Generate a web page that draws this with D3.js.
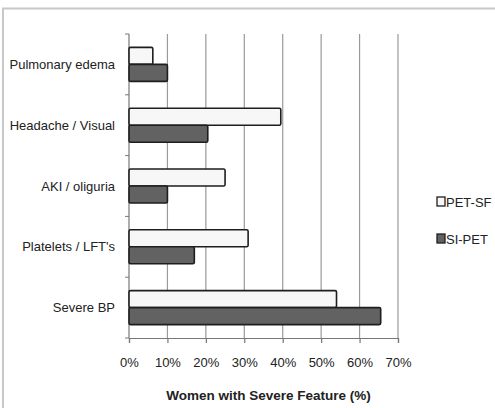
<!DOCTYPE html>
<html>
<head>
<meta charset="utf-8">
<script src="https://cdn.jsdelivr.net/npm/d3@7"></script>
<style>
  body { margin: 0; background: #fff; }
  svg { display: block; }
  text { font-family: "Liberation Sans Narrow", "Arial Narrow", "Liberation Sans", sans-serif; fill: #222; }
</style>
</head>
<body>
<script>
const categories = ["Pulmonary edema", "Headache / Visual", "AKI / oliguria", "Platelets / LFT's", "Severe BP"];
const petSF = [6.2, 39.5, 25, 31, 54];
const siPET = [10, 20.5, 10, 17, 65.5];
const seriesNames = ["PET-SF", "SI-PET"];
const xTicks = [0, 10, 20, 30, 40, 50, 60, 70];

const svgWidth = 495;
const svgHeight = 408;
const margin = {top: 34, right: 97, bottom: 70, left: 129};
const chartWidth = svgWidth - margin.left - margin.right;
const chartHeight = svgHeight - margin.top - margin.bottom;

const svg = d3.select("body").append("svg")
    .attr("width", svgWidth)
    .attr("height", svgHeight);

// outer frame
svg.append("rect")
    .attr("x", 3).attr("y", 8.5)
    .attr("width", svgWidth + 10).attr("height", svgHeight + 10)
    .attr("fill", "none")
    .attr("stroke", "#c8c8c8")
    .attr("stroke-width", 2);

const g = svg.append("g")
    .attr("transform", `translate(${margin.left}, ${margin.top})`);

const x = d3.scaleLinear().domain([0, 70]).range([0, chartWidth]);
const y = d3.scaleBand().domain(categories).range([0, chartHeight]).paddingInner(0.44).paddingOuter(0.22);
const ySub = d3.scaleBand().domain(seriesNames).range([0, y.bandwidth()]);

// grid
g.selectAll(".grid")
    .data(xTicks.slice(1))
    .join("line")
    .attr("x1", d => x(d)).attr("x2", d => x(d))
    .attr("y1", 0).attr("y2", chartHeight)
    .attr("stroke", "#9a9a9a")
    .attr("stroke-width", 1.2);

// x axis
const xAxis = g.append("g")
    .attr("transform", `translate(0, ${chartHeight})`)
    .call(d3.axisBottom(x).tickValues(xTicks).tickFormat(d => d + "%").tickSize(5).tickPadding(15));
xAxis.select(".domain").attr("stroke", "#777").attr("stroke-width", 1.2);
xAxis.selectAll(".tick line").attr("stroke", "#777").attr("stroke-width", 1.2);
xAxis.selectAll("text").attr("font-size", 13).attr("fill", "#222")
    .attr("font-family", "Liberation Sans Narrow, Arial Narrow, Liberation Sans, sans-serif");

// y axis
const yTickPos = d3.range(categories.length + 1).map(i => i * chartHeight / categories.length);
g.append("line")
    .attr("x1", 0).attr("x2", 0).attr("y1", 0).attr("y2", chartHeight)
    .attr("stroke", "#777").attr("stroke-width", 1.2);
g.selectAll(".ytick")
    .data(yTickPos)
    .join("line")
    .attr("x1", -4).attr("x2", 0)
    .attr("y1", d => d).attr("y2", d => d)
    .attr("stroke", "#777");

g.selectAll(".ylabel")
    .data(categories)
    .join("text")
    .attr("x", -14)
    .attr("y", d => y(d) + y.bandwidth() / 2)
    .attr("dy", "0.35em")
    .attr("text-anchor", "end")
    .attr("font-size", 13)
    .text(d => d);

// bars
const series = [
    {name: "PET-SF", values: petSF, fill: "#f7f7f7"},
    {name: "SI-PET", values: siPET, fill: "#626262"}
];

series.forEach(s => {
    g.selectAll(null)
        .data(categories)
        .join("rect")
        .attr("x", 0)
        .attr("y", (d, i) => y(d) + ySub(s.name))
        .attr("width", (d, i) => x(s.values[i]))
        .attr("height", ySub.bandwidth())
        .attr("fill", s.fill)
        .attr("stroke", "#1e1e1e")
        .attr("stroke-width", 1.6)
        .attr("rx", 1.5);
});

// axis title
g.append("text")
    .attr("x", chartWidth / 2 + 5)
    .attr("y", chartHeight + 62)
    .attr("text-anchor", "middle")
    .attr("font-size", 13.5)
    .attr("font-weight", "bold")
    .text("Women with Severe Feature (%)");

// legend
const legend = svg.append("g").attr("transform", "translate(437, 202)");
series.forEach((s, i) => {
    const row = legend.append("g").attr("transform", `translate(0, ${i * 37})`);
    row.append("rect")
        .attr("x", 0).attr("y", -5)
        .attr("width", 8).attr("height", 9)
        .attr("fill", s.fill)
        .attr("stroke", "#1e1e1e")
        .attr("stroke-width", 1.3);
    row.append("text")
        .attr("x", 9).attr("y", 0)
        .attr("dy", "0.35em")
        .attr("font-size", 13)
        .text(s.name);
});
</script>
</body>
</html>
